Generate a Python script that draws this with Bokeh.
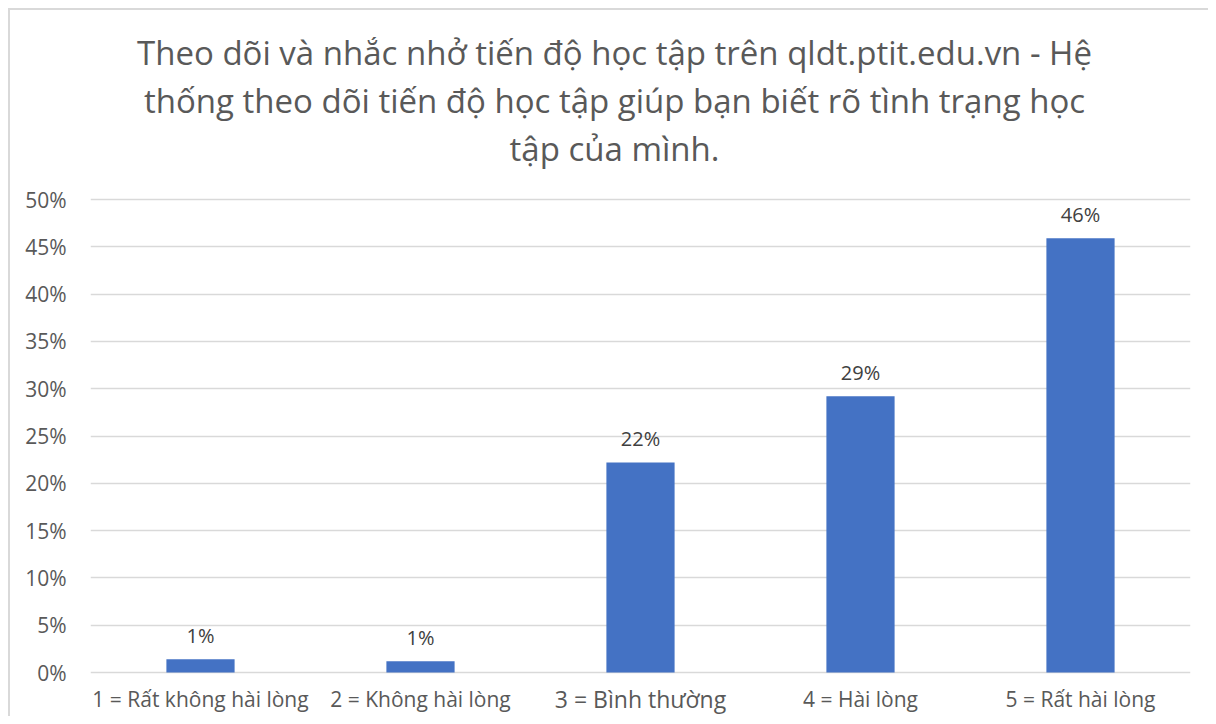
from bokeh.plotting import figure
from bokeh.models import Range1d, FixedTicker, PrintfTickFormatter, ColumnDataSource
from bokeh.core.properties import value
from bokeh.embed import file_html
from bokeh.resources import INLINE

categories = ["1 = Rất không hài lòng", "2 = Không hài lòng", "3 = Bình thường", "4 = Hài lòng", "5 = Rất hài lòng"]
values = [1.4, 1.2, 22.2, 29.2, 45.9]
bar_labels = ["1%", "1%", "22%", "29%", "46%"]
y_ticks = [0, 5, 10, 15, 20, 25, 30, 35, 40, 45, 50]
title_lines = [
    "Theo dõi và nhắc nhở tiến độ học tập trên qldt.ptit.edu.vn - Hệ",
    "thống theo dõi tiến độ học tập giúp bạn biết rõ tình trạng học",
    "tập của mình.",
]
x_label_sizes = ["21px", "21px", "23px", "21px", "21px"]

FONT = "Open Sans"
W, H = 1208, 716
ZERO_PX = 672                     # canvas row of the 0% line
PX_PER_UNIT = 9.46                # pixels per percentage point
y_lo = -(H - ZERO_PX) / PX_PER_UNIT
y_hi = ZERO_PX / PX_PER_UNIT

p = figure(width=W, height=H, x_range=categories, y_range=Range1d(y_lo, y_hi),
           output_backend="svg", toolbar_location=None,
           min_border_left=90, min_border_right=18, min_border_top=0, min_border_bottom=0)
p.outline_line_color = None
p.border_fill_color = None
p.background_fill_color = None
p.styles = {"background": "linear-gradient(#d9d9d9,#d9d9d9) 8px 8px / 2px 100% no-repeat, "
                          "linear-gradient(#d9d9d9,#d9d9d9) 8px 8px / 100% 2px no-repeat, white"}

# title lines (centred 27px left of the plot centre)
title_y = [(ZERO_PX - (52 + 48 * i)) / PX_PER_UNIT for i in range(len(title_lines))]
tsrc = ColumnDataSource(dict(x=[categories[2]] * len(title_lines), y=title_y, t=title_lines))
p.text(x="x", y="y", text="t", source=tsrc, x_offset=-26, text_align="center",
       text_baseline="middle", text_font=value(FONT), text_font_size="33px", text_color="#595959")

p.xaxis.visible = False
p.xgrid.visible = False
p.ygrid.grid_line_color = "#d9d9d9"
p.ygrid.grid_line_width = 1.5
p.yaxis.ticker = FixedTicker(ticks=y_ticks)
p.yaxis.formatter = PrintfTickFormatter(format="%d%%")
p.yaxis.axis_line_color = None
p.yaxis.major_tick_line_color = None
p.yaxis.minor_tick_line_color = None
p.yaxis.major_tick_out = 0
p.yaxis.major_label_standoff = 24
p.yaxis.major_label_text_font = FONT
p.yaxis.major_label_text_font_size = "21px"
p.yaxis.major_label_text_color = "#595959"

src = ColumnDataSource(dict(x=categories, top=values, lab=bar_labels,
                            ly=[-2.85] * len(categories), sz=x_label_sizes))
p.vbar(x="x", top="top", width=0.31, source=src, fill_color="#4472c4", line_color=None)
p.text(x="x", y="top", text="lab", source=src, y_offset=-24, text_align="center",
       text_baseline="middle", text_font=value(FONT), text_font_size="20px", text_color="#404040")
p.text(x="x", y="ly", text="x", source=src, text_align="center", text_baseline="middle",
       text_font=value(FONT), text_font_size="sz", text_color="#595959")

open("out.html", "w").write(file_html(p, INLINE))
